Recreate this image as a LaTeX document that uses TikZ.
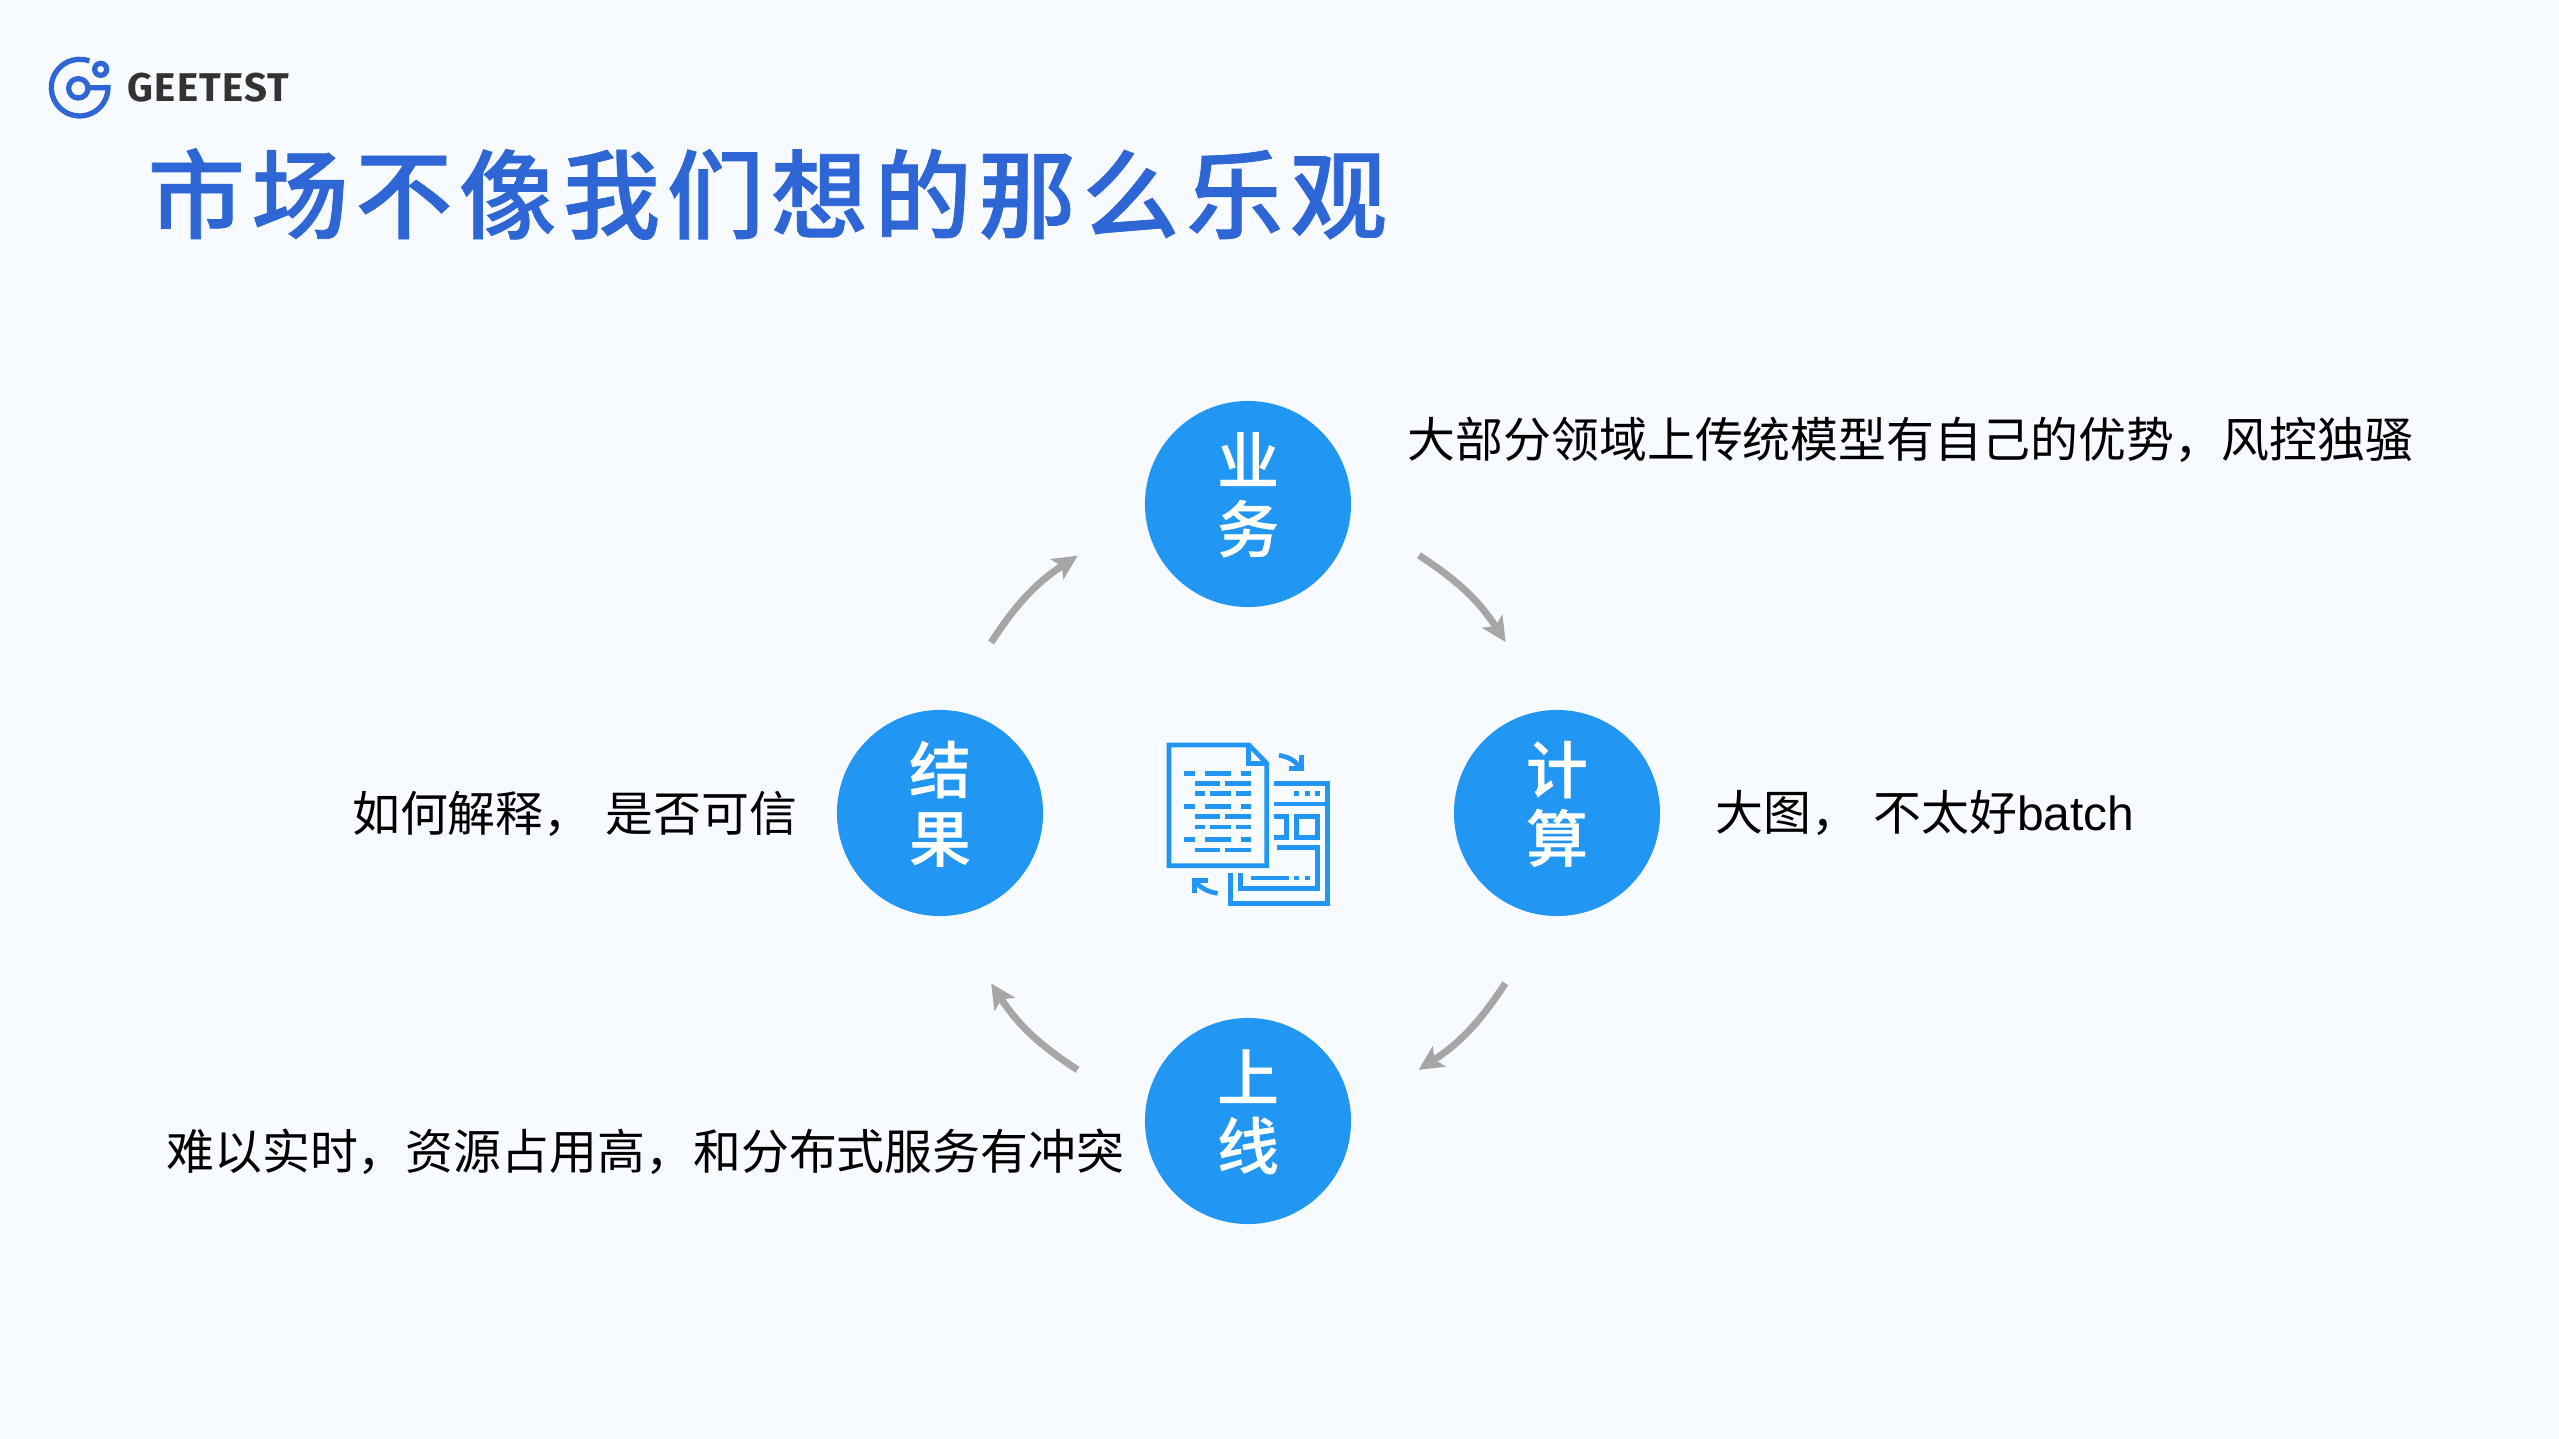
\documentclass[tikz,border=0pt]{standalone}
\usepackage{xcolor}
\usepackage{fontspec}
\setmainfont{Liberation Sans}
\newfontfamily\cjk{Noto Sans CJK SC}
\newfontfamily\cjkmid[FakeBold=0.5]{Noto Sans CJK SC Medium}
\newfontfamily\cjktitle[LetterSpace=7,FakeBold=0.8]{Noto Sans CJK SC Medium}
\newfontfamily\logofont[LetterSpace=3]{Fira Sans}
\usetikzlibrary{arrows.meta}

\definecolor{pagebg}{HTML}{F7FAFF}
\definecolor{stageblue}{HTML}{2196F3}
\definecolor{titleblue}{HTML}{2F66D6}
\definecolor{flowgray}{HTML}{A6A6A6}

\tikzset{
	stage/.style={circle, fill=stageblue, text=white, minimum size=2.06cm, inner sep=0pt, align=center,
		text depth=6.7pt, font=\cjkmid\fontsize{17.6}{19.5}\selectfont},
	desc/.style={inner sep=0pt, text=black, font=\fontsize{13.62}{16}\selectfont},
	flow/.style={draw=flowgray, line width=2pt, -{Stealth[length=7pt, width=6.8pt, inset=1.6pt]}},
	iconline/.style={draw=stageblue, line width=1.33pt},
	logoline/.style={draw=titleblue, line width=1.5pt}
}

\begin{document}
\begin{tikzpicture}[x=0.01cm, y=-0.01cm]
	\fill[pagebg] (0,0) rectangle (2559,1439);

	% logo
	\begin{scope}[shift={(30,40)}, scale=1/3, logoline]
		\draw (178,63) arc[start angle=-70, end angle=-360, radius=85] -- (178,143);
		\draw (145,145) circle (29);
		\draw (212,88) circle (18);
	\end{scope}
	\node[anchor=west, inner sep=0pt, text=black!80, font=\logofont\bfseries\fontsize{11.4}{14}\selectfont] (brand) at (127,88) {GEETEST};

	\node[anchor=west, inner sep=0pt, text=titleblue, font=\cjktitle\fontsize{27.6}{32}\selectfont] (headline) at (147,194) {市场不像我们想的那么乐观};

	% stages
	\node[stage] (yewu) at (1248,504) {业\\务};
	\node[stage] (jisuan) at (1557,813) {计\\算};
	\node[stage] (shangxian) at (1248,1121) {上\\线};
	\node[stage] (jieguo) at (940,813) {结\\果};

	\foreach \a/\b in {jieguo/yewu, yewu/jisuan, jisuan/shangxian, shangxian/jieguo}
	{
		\path (\a.center) to[bend left=45] coordinate[pos=0.37] (\a-s) coordinate[pos=0.63] (\a-t) (\b.center);
		\draw[flow] (\a-s) to[bend left=12] (\a-t);
	}

	% texts
	\node[desc, anchor=west] (yewu-text) at (1407,440) {\cjk 大部分领域上传统模型有自己的优势，风控独骚};
	\node[desc, anchor=west] (jisuan-text) at (1715,813) {{\cjk 大图，\hspace{4pt}不太好}batch};
	\node[desc, anchor=east] (jieguo-text) at (798,814) {\cjk 如何解释，\hspace{4pt}是否可信};
	\node[desc, anchor=east] (shangxian-text) at (1125,1152) {\cjk 难以实时，资源占用高，和分布式服务有冲突};

	% icon
	\begin{scope}[shift={(1140,720)}, scale=1/3, iconline]
		\draw (87,75) -- (327,75) -- (380,130) -- (380,437) -- (87,437) -- cycle;
		\draw (325,75) -- (325,130) -- (380,130);
		\foreach \y in {160,259,359}
		{
			\draw (133,\y) -- (165,\y) (195,\y) -- (272,\y) (303,\y) -- (333,\y);
		}
		\foreach \y in {190,290,390}
		{
			\draw (164,\y) -- (241,\y) (256,\y) -- (333,\y);
		}
		\foreach \y in {221,321}
		{
			\draw (164,\y) -- (195,\y) (210,\y) -- (272,\y) (287,\y) -- (333,\y);
		}
		\draw (403,190) -- (563,190) -- (563,551) -- (271,551) -- (271,458);
		\draw (403,252) -- (555,252);
		\foreach \x in {470,501,532}
		{
			\draw (\x-7.5,221) -- (\x+7.5,221);
		}
		\draw (470,290) rectangle (533,352);
		\draw (403,290) -- (440,290) -- (440,352) -- (403,352);
		\draw (410,382) -- (532,382) -- (532,505) -- (302,505) -- (302,458);
		\draw (333,474) -- (447,474);
		\draw (463,474) -- (478,474) (495,474) -- (510,474);
		\draw (417,106) .. controls (445,110) and (465,122) .. (478,140);
		\draw (485,105) -- (485,145) -- (447,145);
		\draw (233,520) .. controls (205,516) and (185,505) .. (170,490);
		\draw (163,520) -- (163,482) -- (203,482);
	\end{scope}
\end{tikzpicture}
\end{document}
